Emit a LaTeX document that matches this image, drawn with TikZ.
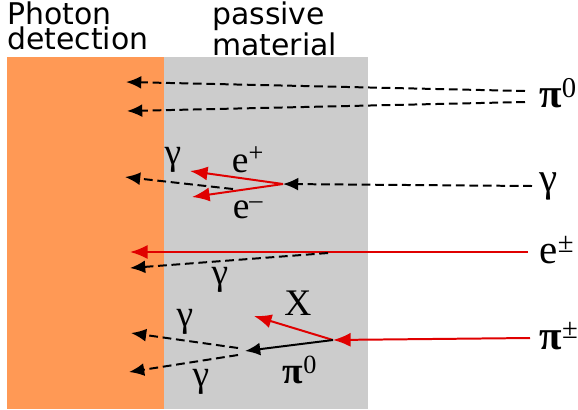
\documentclass[tikz,border=0pt]{standalone}
\usepackage{fontspec}
\setmainfont{Liberation Serif}
\newfontfamily\headfont{DejaVu Sans}
\usetikzlibrary{arrows.meta}
\definecolor{ffvvnn}{rgb}{1.,0.6,0.333}
\definecolor{cccccc}{rgb}{0.8,0.8,0.8}
\definecolor{ddqqqq}{rgb}{0.88,0.,0.}

\tikzset{
  photon/.style={line width=1.7pt,dash pattern=on 7.5pt off 4pt,-{Latex[length=13pt,width=11pt]}},
  charged/.style={line width=1.7pt,color=ddqqqq,-{Latex[length=15pt,width=12pt]}},
  neutral/.style={line width=1.7pt,-{Latex[length=13pt,width=11pt]}},
  lbl/.style={inner sep=0pt,font=\fontsize{32}{32}\selectfont},
  biglbl/.style={inner sep=0pt,font=\fontsize{35}{35}\selectfont},
  head/.style={inner sep=0pt,align=left,font=\headfont\fontsize{25.5}{21}\selectfont}
}

\begin{document}
\begin{tikzpicture}[x=0.03cm,y=-0.03cm,line cap=butt]
    \useasboundingbox (0,0) rectangle (578,409);
    \fill [color=ffvvnn] (7,57) rectangle (164,409);
    \fill [color=cccccc] (164,57) rectangle (368,409);
    \node[head,anchor=north west] (det) at (7,2) {Photon\\detection};
    \node[head,anchor=north west] (pas) at (212,2) {passive\\material};
    % incoming particles
    \node[biglbl] (pizero) at (558,93) {\textbf{π}\textsuperscript{0}};
    \node[biglbl] (gam) at (549,186) {γ};
    \node[biglbl] (epm) at (557,250) {e\textsuperscript{±}};
    \node[biglbl] (pipm) at (559,336) {\textbf{π}\textsuperscript{±}};
    % pi0 -> gamma gamma
    \coordinate (pzu) at (525,91);
    \coordinate (pzl) at (525,102);
    \coordinate (pzua) at (126,82);
    \coordinate (pzla) at (127,111);
    \draw [photon] (pzu) -- (pzua);
    \draw [photon] (pzl) -- (pzla);
    % gamma -> e+ e-
    \coordinate (gs) at (532,186);
    \coordinate (conv) at (283,184);
    \coordinate (ep) at (190,171);
    \coordinate (em) at (192,197);
    \coordinate (brs) at (233,189);
    \coordinate (bra) at (125,177);
    \draw [photon] (gs) -- (conv);
    \draw [photon] (brs) -- (bra);
    \draw [charged] (conv) -- (ep);
    \draw [charged] (conv) -- (em);
    \node[lbl] (eplus) at (248,160) {e\textsuperscript{+}};
    \node[lbl] (eminus) at (248,210) {e\textsuperscript{–}};
    \node[lbl] (g1) at (173,160) {γ};
    % electron
    \coordinate (es) at (528,252);
    \coordinate (ea) at (130,252);
    \coordinate (ebs) at (328,253);
    \coordinate (eba) at (130,268);
    \draw [charged] (es) -- (ea);
    \draw [photon] (ebs) -- (eba);
    \node[lbl] (g2) at (220,280) {γ};
    % charged pion
    \coordinate (ps) at (530,338);
    \coordinate (int) at (333,340);
    \coordinate (xa) at (254,316);
    \coordinate (dec) at (245,351);
    \coordinate (gua) at (131,333);
    \coordinate (gla) at (129,372);
    \draw [charged] (ps) -- (int);
    \draw [charged] (int) -- (xa);
    \draw [neutral] (int) -- (dec);
    \draw [photon] (238,348) -- (gua);
    \draw [photon] (238,355) -- (gla);
    \node[lbl] (xlab) at (298,303) {X};
    \node[lbl] (pzlab) at (300,370) {\textbf{π}\textsuperscript{0}};
    \node[lbl] (g3) at (185,322) {γ};
    \node[lbl] (g4) at (201,382) {γ};
\end{tikzpicture}
\end{document}
